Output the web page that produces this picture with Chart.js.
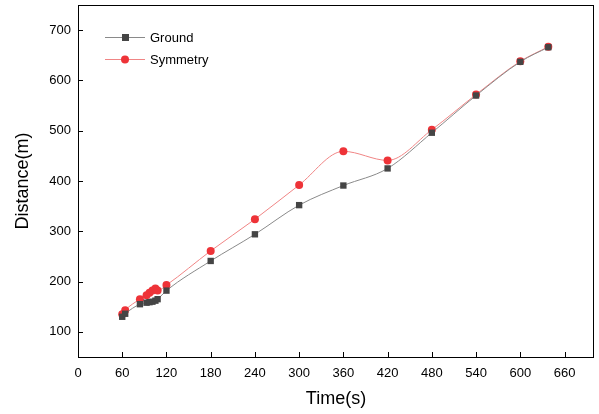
<!DOCTYPE html>
<html>
<head>
<meta charset="utf-8">
<title>Distance vs Time</title>
<script src="https://cdn.jsdelivr.net/npm/chart.js@4.4.1/dist/chart.umd.min.js"></script>
<style>
    html, body { margin: 0; padding: 0; background: #fff; }
    #wrap { width: 599px; height: 414px; position: relative; }
</style>
</head>
<body>
<div id="wrap"><canvas id="distChart"></canvas></div>
<script>
// time points (s)
const timeData = [60, 64, 84, 93, 97, 101, 105, 108, 120, 180, 240, 300, 360, 420, 480, 540, 600, 638];
// distance (m)
const groundData = [130, 136, 155, 158, 159, 160, 162, 165, 182, 241, 294, 352, 391, 425, 496, 570, 637, 666];
const symmetryData = [135, 143, 165, 173, 178, 182, 186, 182, 193, 261, 324, 392, 459, 441, 502, 572, 638, 667];
// axis ticks
const xTicks = [0, 60, 120, 180, 240, 300, 360, 420, 480, 540, 600, 660];
const yTicks = [100, 200, 300, 400, 500, 600, 700];

(function () {
    "use strict";

    const FONT = "'Liberation Sans', Arial, sans-serif";

    let toPoints = function (ys) {
        return timeData.map((t, i) => ({ x: t, y: ys[i] }));
    };

    // ticks drawn inside the frame, like Origin does
    const innerTicks = {
        id: "innerTicks",
        afterDraw(chart) {
            let ctx = chart.ctx;
            let area = chart.chartArea;
            let xs = chart.scales.x;
            let ys = chart.scales.y;
            ctx.save();
            ctx.strokeStyle = "#000";
            ctx.lineWidth = 1;
            ctx.beginPath();
            xTicks.forEach((v) => {
                let px = Math.round(xs.getPixelForValue(v)) + 0.5;
                ctx.moveTo(px, area.bottom);
                ctx.lineTo(px, area.bottom - 5);
            });
            yTicks.forEach((v) => {
                let py = Math.round(ys.getPixelForValue(v)) + 0.5;
                ctx.moveTo(area.left, py);
                ctx.lineTo(area.left + 5, py);
            });
            ctx.stroke();
            // frame
            ctx.strokeRect(area.left + 0.5, area.top + 0.5, area.right - area.left - 1, area.bottom - area.top);
            ctx.restore();
        },
    };

    // legend: line segment with the marker in the middle
    const lineLegend = {
        id: "lineLegend",
        afterDraw(chart) {
            let ctx = chart.ctx;
            let area = chart.chartArea;
            ctx.save();
            chart.data.datasets.forEach((ds, i) => {
                let y = area.top + 32 + i * 22;
                let x0 = area.left + 27;
                ctx.strokeStyle = ds.borderColor;
                ctx.lineWidth = 1;
                ctx.beginPath();
                ctx.moveTo(x0, y + 0.5);
                ctx.lineTo(x0 + 40, y + 0.5);
                ctx.stroke();
                ctx.fillStyle = ds.pointBackgroundColor;
                if (ds.pointStyle === "rect") {
                    ctx.fillRect(x0 + 17, y - 3, 7, 7);
                } else {
                    ctx.beginPath();
                    ctx.arc(x0 + 20, y + 0.5, 4, 0, Math.PI * 2);
                    ctx.fill();
                }
                ctx.fillStyle = "#000";
                ctx.font = "13px " + FONT;
                ctx.textBaseline = "middle";
                ctx.fillText(ds.label, x0 + 45, y + 1);
            });
            ctx.restore();
        },
    };

    let ctx = document.getElementById("distChart").getContext("2d");
    window.distChart = new Chart(ctx, {
        type: "line",
        data: {
            datasets: [
                {
                    label: "Ground",
                    data: toPoints(groundData),
                    borderColor: "#8a8a8a",
                    borderWidth: 1,
                    pointStyle: "rect",
                    pointRadius: 4.5,
                    pointBackgroundColor: "#454545",
                    pointBorderColor: "#454545",
                    pointBorderWidth: 0,
                    cubicInterpolationMode: "monotone",
                },
                {
                    label: "Symmetry",
                    data: toPoints(symmetryData),
                    borderColor: "#f08585",
                    borderWidth: 1,
                    pointStyle: "circle",
                    pointRadius: 4,
                    pointBackgroundColor: "#ee3338",
                    pointBorderColor: "#ee3338",
                    pointBorderWidth: 0,
                    cubicInterpolationMode: "monotone",
                },
            ],
        },
        options: {
            responsive: true,
            maintainAspectRatio: false,
            animation: false,
            layout: { padding: { top: 5, right: 5, left: 0, bottom: 0 } },
            plugins: {
                legend: { display: false },
                tooltip: { enabled: false },
            },
            scales: {
                x: {
                    type: "linear",
                    min: 0,
                    max: 700,
                    afterBuildTicks: (scale) => {
                        scale.ticks = xTicks.map((v) => ({ value: v }));
                    },
                    afterFit: (scale) => {
                        scale.height = 57;
                        scale.paddingLeft = 0;
                        scale.paddingRight = 0;
                    },
                    grid: { display: false, drawTicks: false },
                    border: { display: false },
                    ticks: {
                        color: "#000",
                        padding: 9,
                        maxRotation: 0,
                        autoSkip: false,
                        font: { family: FONT, size: 13 },
                    },
                    title: {
                        display: true,
                        text: "Time(s)",
                        color: "#000",
                        padding: { top: 0, bottom: 4 },
                        font: { family: FONT, size: 18 },
                    },
                },
                y: {
                    min: 50,
                    max: 750,
                    afterBuildTicks: (scale) => {
                        scale.ticks = yTicks.map((v) => ({ value: v }));
                    },
                    afterFit: (scale) => {
                        scale.width = 78;
                        scale.paddingTop = 0;
                        scale.paddingBottom = 0;
                    },
                    grid: { display: false, drawTicks: false },
                    border: { display: false },
                    ticks: {
                        color: "#000",
                        padding: 7,
                        autoSkip: false,
                        font: { family: FONT, size: 13 },
                    },
                    title: {
                        display: true,
                        text: "Distance(m)",
                        color: "#000",
                        padding: { top: 12, bottom: 6 },
                        font: { family: FONT, size: 18 },
                    },
                },
            },
        },
        plugins: [innerTicks, lineLegend],
    });
})();
</script>
</body>
</html>
